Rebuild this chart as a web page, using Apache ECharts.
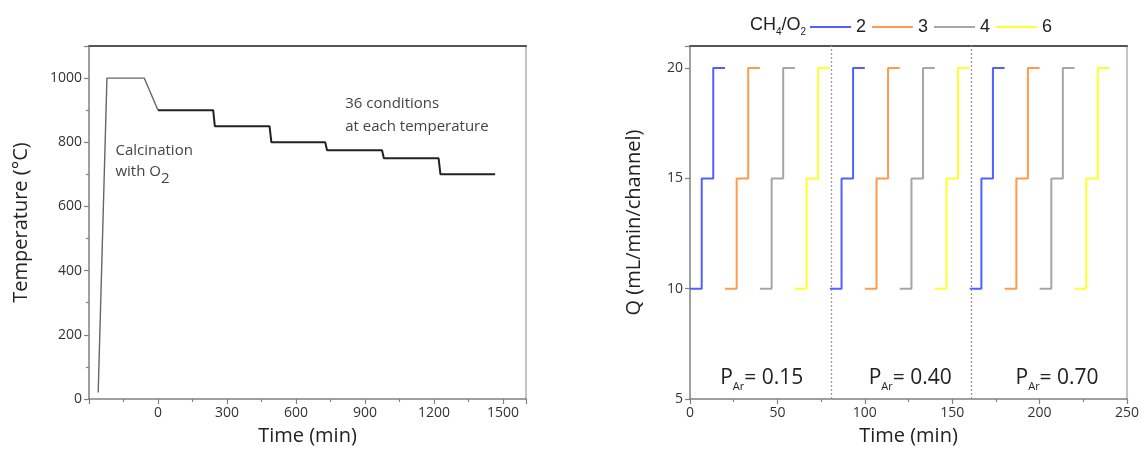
<!DOCTYPE html>
<html><head><meta charset="utf-8">
<script src="https://cdn.jsdelivr.net/npm/echarts@6/dist/echarts.min.js"></script>
<style>html,body{margin:0;padding:0;background:#fff}#c{width:1142px;height:455px}</style>
</head><body><div id="c"></div>
<script>
// ---------- Left panel data: temperature programme ----------
const calcTime = [-260, -222, -60, 0];
const calcTemp = [20, 1000, 1000, 900];
const stepTime = [0, 240, 247, 485, 493, 727, 735, 974, 982, 1220, 1228, 1466];
const stepTemp = [900, 900, 850, 850, 800, 800, 775, 775, 750, 750, 700, 700];
const leftXTicks = [0, 300, 600, 900, 1200, 1500];
const leftYTicks = [0, 200, 400, 600, 800, 1000];

// ---------- Right panel data: flow steps per CH4/O2 ratio ----------
const ratioNames = ['2', '3', '4', '6'];
const r2Time = [0, 6.7, 6.7, 13.3, 13.3, 20, null, 80, 86.7, 86.7, 93.3, 93.3, 100, null, 160, 166.7, 166.7, 173.3, 173.3, 180];
const r2Q    = [10, 10, 15, 15, 20, 20, null, 10, 10, 15, 15, 20, 20, null, 10, 10, 15, 15, 20, 20];
const r3Time = [20, 26.7, 26.7, 33.3, 33.3, 40, null, 100, 106.7, 106.7, 113.3, 113.3, 120, null, 180, 186.7, 186.7, 193.3, 193.3, 200];
const r3Q    = [10, 10, 15, 15, 20, 20, null, 10, 10, 15, 15, 20, 20, null, 10, 10, 15, 15, 20, 20];
const r4Time = [40, 46.7, 46.7, 53.3, 53.3, 60, null, 120, 126.7, 126.7, 133.3, 133.3, 140, null, 200, 206.7, 206.7, 213.3, 213.3, 220];
const r4Q    = [10, 10, 15, 15, 20, 20, null, 10, 10, 15, 15, 20, 20, null, 10, 10, 15, 15, 20, 20];
const r6Time = [60, 66.7, 66.7, 73.3, 73.3, 80, null, 140, 146.7, 146.7, 153.3, 153.3, 160, null, 220, 226.7, 226.7, 233.3, 233.3, 240];
const r6Q    = [10, 10, 15, 15, 20, 20, null, 10, 10, 15, 15, 20, 20, null, 10, 10, 15, 15, 20, 20];
const dividerTimes = [81, 161];
const parValues = ['0.15', '0.40', '0.70'];
const parTimes = [41, 126, 210];
const parQ = 6;
const rightXTicks = [0, 50, 100, 150, 200, 250];
const rightYTicks = [5, 10, 15, 20];

// ---------- styles ----------
const FONT = 'Open Sans';
const ratioColors = ['#5060ff', '#ff9a4e', '#a6a6a6', '#ffff30'];
const axisGray = '#808080';

function pairs(xs, ys) { return xs.map((x, i) => [x, ys[i]]); }

const chart = echarts.init(document.getElementById('c'), null, {renderer: 'canvas'});

function bottomAxis(grid, min, max, interval, ticks, name) {
  return {
    type: 'value', gridIndex: grid, position: 'bottom', min: min, max: max, interval: interval,
    name: name, nameLocation: 'middle', nameGap: 27,
    nameTextStyle: {fontFamily: FONT, fontSize: 20, color: '#222'},
    axisLine: {show: true, onZero: false, lineStyle: {color: axisGray, width: 1.5}},
    axisTick: {show: true, inside: false, length: 5, lineStyle: {color: axisGray, width: 1.2}},
    minorTick: {show: true, splitNumber: 2, length: 3, lineStyle: {color: axisGray, width: 1.2}},
    axisLabel: {fontFamily: FONT, fontSize: 14, color: '#333', margin: 7,
      formatter: v => ticks.includes(v) ? String(v) : ''},
    splitLine: {show: false}
  };
}
function topBorder(grid, min, max) {
  return {type: 'value', gridIndex: grid, position: 'top', min: min, max: max,
    axisLine: {show: true, onZero: false, lineStyle: {color: '#555', width: 2}},
    axisTick: {show: false}, axisLabel: {show: false}, splitLine: {show: false}};
}
function leftAxis(grid, min, max, interval, ticks, name, gap, minor) {
  return {
    type: 'value', gridIndex: grid, position: 'left', min: min, max: max, interval: interval,
    name: name, nameLocation: 'middle', nameGap: gap, nameRotate: 90,
    nameTextStyle: {fontFamily: FONT, fontSize: 20, color: '#222'},
    axisLine: {show: true, onZero: false, lineStyle: {color: axisGray, width: 1.5}},
    axisTick: {show: true, inside: false, length: 5, lineStyle: {color: axisGray, width: 1.2}},
    minorTick: {show: minor, splitNumber: 2, length: 3, lineStyle: {color: axisGray, width: 1.2}},
    axisLabel: {fontFamily: FONT, fontSize: 14, color: '#333', margin: 7,
      formatter: v => ticks.includes(v) ? String(v) : ''},
    splitLine: {show: false}
  };
}
function rightBorder(grid, min, max) {
  return {type: 'value', gridIndex: grid, position: 'right', min: min, max: max,
    axisLine: {show: true, onZero: false, lineStyle: {color: '#c4c4c4', width: 2}},
    axisTick: {show: false}, axisLabel: {show: false}, splitLine: {show: false}};
}

const ratioSeries = [
  [r2Time, r2Q], [r3Time, r3Q], [r4Time, r4Q], [r6Time, r6Q]
].map((d, i) => ({
  type: 'line', name: ratioNames[i], xAxisIndex: 2, yAxisIndex: 2,
  data: pairs(d[0], d[1]), symbol: 'none', connectNulls: false,
  lineStyle: {color: ratioColors[i], width: 2}, itemStyle: {color: ratioColors[i]},
  silent: true, animation: false, z: 3
}));

const option = {
  animation: false,
  backgroundColor: '#fff',
  grid: [
    {left: 89, top: 46, width: 437, height: 353, outerBoundsMode: 'none', containLabel: false},
    {left: 690, top: 46, width: 437, height: 353, outerBoundsMode: 'none', containLabel: false}
  ],
  xAxis: [
    bottomAxis(0, -300, 1600, 300, leftXTicks, 'Time (min)'),
    topBorder(0, -300, 1600),
    bottomAxis(1, 0, 250, 50, rightXTicks, 'Time (min)'),
    topBorder(1, 0, 250)
  ],
  yAxis: [
    leftAxis(0, 0, 1100, 200, leftYTicks, 'Temperature (°C)', 58, true),
    rightBorder(0, 0, 1100),
    leftAxis(1, 5, 21, 5, rightYTicks, 'Q (mL/min/channel)', 46, false),
    rightBorder(1, 5, 21)
  ],
  legend: {
    show: true, icon: 'rect',
    data: ratioNames, left: 805, top: 13, itemWidth: 41, itemHeight: 2, itemGap: 6,
    textStyle: {fontFamily: 'Liberation Sans', fontSize: 18, color: '#222'},
    selectedMode: false
  },
  series: [
    {type: 'line', name: 'calc', xAxisIndex: 0, yAxisIndex: 0, data: pairs(calcTime, calcTemp),
     symbol: 'none', lineStyle: {color: '#666', width: 1.4}, silent: true},
    {type: 'line', name: 'steps', xAxisIndex: 0, yAxisIndex: 0, data: pairs(stepTime, stepTemp),
     symbol: 'none', lineStyle: {color: '#222', width: 2}, silent: true},
    {type: 'line', name: 'dividers', xAxisIndex: 2, yAxisIndex: 2, data: [], silent: true,
     markLine: {silent: true, symbol: 'none', label: {show: false},
       lineStyle: {color: '#9a9a9a', type: [2, 2], width: 1.3},
       data: dividerTimes.map(t => ({xAxis: t}))}},
    ...ratioSeries
  ]
};
chart.setOption(option);

// annotations positioned in data coordinates
function px(gi, p) {
  return chart.convertToPixel({xAxisIndex: gi === 0 ? 0 : 2, yAxisIndex: gi === 0 ? 0 : 2}, p);
}
const g = [];
function addText(gi, p, text, align, rich, size, col, dy) {
  const q = px(gi, p);
  g.push({type: 'text', x: q[0], y: q[1] + (dy || 0), silent: true,
    style: {text: text, align: align, verticalAlign: 'middle', rich: rich,
      fontFamily: FONT, fontSize: size || 15, fill: col || '#444'}});
}
addText(0, [-185, 775], 'Calcination', 'left');
addText(0, [-185, 702], '{a|with O}{s|2}', 'left', {
  a: {fontFamily: FONT, fontSize: 15, fill: '#444', lineHeight: 22, verticalAlign: 'top'},
  s: {fontFamily: FONT, fontSize: 15, fill: '#444', verticalAlign: 'bottom'}}, 15, '#444', 2);
addText(0, [814, 921], '36 conditions', 'left');
addText(0, [814, 847], 'at each temperature', 'left');
parValues.forEach((v, i) => {
  addText(1, [parTimes[i], parQ], '{p|P}{s|Ar}{p|= ' + v + '}', 'center', {
    p: {fontFamily: FONT, fontSize: 21, fill: '#222', lineHeight: 24, verticalAlign: 'top'},
    s: {fontFamily: FONT, fontSize: 11, fill: '#222', verticalAlign: 'bottom'}}, 21, '#222', 3);
});
// legend title with subscripts
g.push({type: 'text', x: 806, y: 27, silent: true,
  style: {text: '{a|CH}{s|4}{a|/O}{s|2}', align: 'right', verticalAlign: 'middle',
    rich: {
      a: {fontFamily: 'Liberation Sans', fontSize: 18, fill: '#222', lineHeight: 21, verticalAlign: 'top'},
      s: {fontFamily: 'Liberation Sans', fontSize: 10, fill: '#222', verticalAlign: 'bottom'}
    }}});
chart.setOption({graphic: g});
</script>
</body></html>
